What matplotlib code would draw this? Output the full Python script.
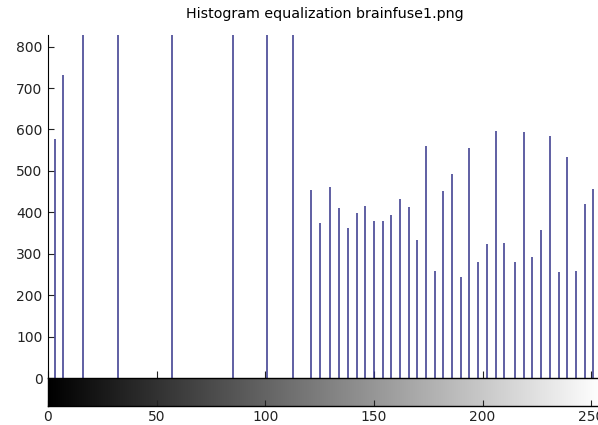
import numpy as np
import matplotlib
matplotlib.use("Agg")
import matplotlib.pyplot as plt

plt.rcParams['font.family'] = ['DejaVu Sans']

# gray levels present after equalization and their pixel counts
levels = [3, 7, 16, 32, 57, 85, 101, 113,
          121, 125, 130, 134, 138, 142, 146, 150, 154, 158, 162, 166,
          170, 174, 178, 182, 186, 190, 194, 198, 202, 206, 210, 215,
          219, 223, 227, 231, 235, 239, 243, 247, 251]
counts = [577, 732, 1450, 1800, 2300, 1700, 1900, 2100,
          454, 375, 460, 410, 361, 399, 415, 380, 378, 394, 432, 412,
          333, 561, 259, 452, 492, 245, 556, 279, 324, 596, 325, 279,
          593, 291, 357, 583, 255, 533, 258, 420, 457]
yticks = [0, 100, 200, 300, 400, 500, 600, 700, 800]
xticks = [0, 50, 100, 150, 200, 250]

fig = plt.figure(figsize=(5.98, 4.25), dpi=100)
W, H = 598, 425
# histogram axes (runs off the right edge like the original)
ax = fig.add_axes([48 / W, (H - 378) / H, 554 / W, (378 - 35) / H])
ax.vlines(levels, 0, counts, color='#34348a', linewidth=1.1)
ax.set_xlim(0, 255)
ax.set_ylim(0, 828)
ax.set_yticks(yticks)
ax.set_xticks(xticks)
ax.set_xticklabels([])
ax.tick_params(direction='in', length=4, labelsize=10, colors='#222222', pad=4)
ax.tick_params(axis='x', length=5)
for s in ['top', 'right', 'bottom']:
    ax.spines[s].set_visible(False)
ax.set_title('Histogram equalization brainfuse1.png', fontsize=10.3, pad=12)

# gray colorbar below
cax = fig.add_axes([48 / W, (H - 406) / H, 554 / W, 28 / H])
grad = np.linspace(0, 1, 256)[None, :]
cax.imshow(grad, cmap='gray', aspect='auto', extent=[0, 255, 0, 1])
cax.set_xlim(0, 255)
cax.set_ylim(0, 1)
cax.set_yticks([])
cax.set_xticks(xticks)
cax.tick_params(direction='in', length=4, labelsize=10, colors='#222222', pad=3)
for s in cax.spines.values():
    s.set_linewidth(1.0)

fig.savefig('out.png', dpi=100)
